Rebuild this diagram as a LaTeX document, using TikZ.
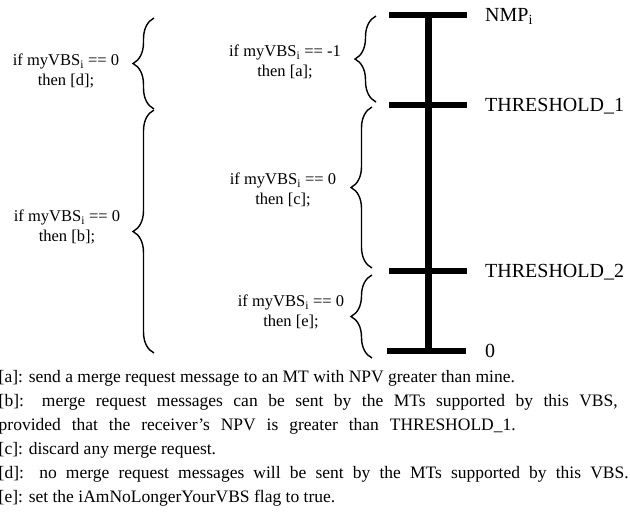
\documentclass[tikz,border=0pt]{standalone}
\usepackage{fontspec}
\setmainfont{Liberation Serif}
\usetikzlibrary{decorations.pathreplacing}
\begin{document}
\begin{tikzpicture}[x=1pt,y=1pt,
  tick/.style={line width=6pt},
  axis/.style={line width=7pt},
  brc/.style={decorate,decoration={brace,amplitude=21pt},line width=1.4pt},
  cond/.style={font=\fontsize{16.5}{19.5}\selectfont,align=center,inner sep=0pt},
  lvl/.style={font=\fontsize{20}{24}\selectfont,anchor=base west,inner sep=0pt},
  note/.style={font=\fontsize{17.5}{24}\selectfont,anchor=base west,inner sep=0pt}]
\useasboundingbox (0,0) rectangle (630,-512);
% levels
\coordinate (l0) at (389,-15);  \coordinate (r0) at (467,-15);  \coordinate (m0) at (428,-15);
\coordinate (l1) at (389,-105); \coordinate (r1) at (467,-105);
\coordinate (l2) at (389,-271); \coordinate (r2) at (467,-271);
\coordinate (l3) at (387,-351); \coordinate (r3) at (466,-351); \coordinate (m3) at (428,-351);
\draw[axis] (m0) -- (m3);
\draw[tick] (l0) -- (r0);
\draw[tick] (l1) -- (r1);
\draw[tick] (l2) -- (r2);
\draw[tick] (l3) -- (r3);
\node[lvl] (nmp) at (485,-21.5) {NMP\textsubscript{i}};
\node[lvl] (th1) at (485,-111.5) {THRESHOLD\_1};
\node[lvl] (th2) at (485,-277.5) {THRESHOLD\_2};
\node[lvl] (zero) at (485,-357) {0};
% middle braces
\coordinate (ba1) at (376,-102); \coordinate (ba0) at (376,-16);
\coordinate (bc1) at (372,-268); \coordinate (bc0) at (372,-107);
\coordinate (be1) at (372,-358); \coordinate (be0) at (372,-275);
\draw[brc] (ba1) -- (ba0);
\draw[brc] (bc1) -- (bc0);
\draw[brc] (be1) -- (be0);
% left braces
\coordinate (bd1) at (154,-109); \coordinate (bd0) at (154,-18);
\coordinate (bb1) at (154,-353); \coordinate (bb0) at (154,-110);
\draw[brc] (bd1) -- (bd0);
\draw[brc] (bb1) -- (bb0);
% conditions
\node[cond] (ca) at (285,-62) {if myVBS\textsubscript{i} == -1\\then [a];};
\node[cond] (cc) at (283,-190) {if myVBS\textsubscript{i} == 0\\then [c];};
\node[cond] (ce) at (291,-312) {if myVBS\textsubscript{i} == 0\\then [e];};
\node[cond] (cd) at (66,-71) {if myVBS\textsubscript{i} == 0\\then [d];};
\node[cond] (cb) at (67,-227) {if myVBS\textsubscript{i} == 0\\then [b];};
% notes
\node[note] (na) at (-1.5,-382) {[a]: send a merge request message to an MT with NPV greater than mine.};
\node[note] (nb) at (-1.5,-406) {\hbox to 619pt{[b]: merge request messages can be sent by the MTs supported by this VBS,}};
\node[note] (nb2) at (-1.5,-430) {\hbox to 517pt{provided that the receiver’s NPV is greater than THRESHOLD\_1.}};
\node[note] (nc) at (-1.5,-454) {[c]: discard any merge request.};
\node[note] (nd) at (-1.5,-478) {\hbox to 630pt{[d]: no merge request messages will be sent by the MTs supported by this VBS.}};
\node[note] (ne) at (-1.5,-502) {[e]: set the iAmNoLongerYourVBS flag to true.};
\end{tikzpicture}
\end{document}
